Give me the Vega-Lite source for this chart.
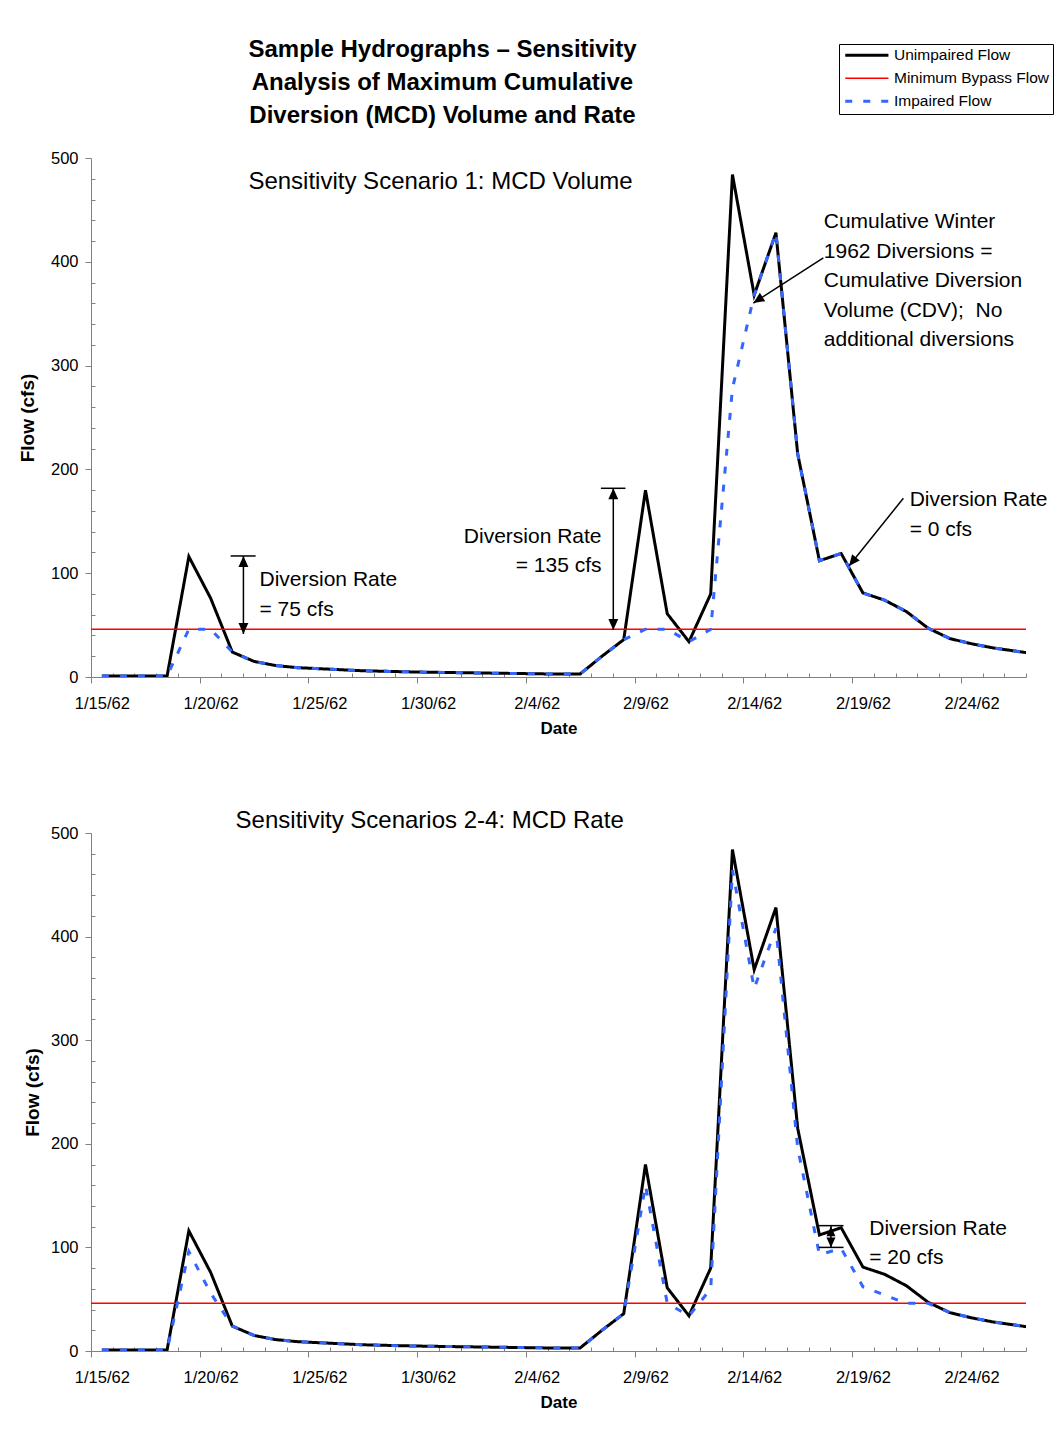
{
  "$schema": "https://vega.github.io/schema/vega-lite/v6.json",
  "background": "white",
  "padding": {"left": 18, "top": 37, "right": 5, "bottom": 5},
  "spacing": 71,
  "config": {
    "font": "Liberation Sans",
    "view": {"stroke": null},
    "axis": {"grid": false, "domainColor": "#808080", "tickColor": "#808080", "domainWidth": 1, "tickWidth": 1, "labelColor": "black", "titleColor": "black", "labelFont": "Liberation Sans", "titleFont": "Liberation Sans", "labelFontSize": 16.5, "titleFontWeight": "bold", "labelOverlap": false},
    "legend": {"orient": "none", "legendX": 748, "legendY": -114, "symbolType": "M-1,0L3.8,0", "symbolSize": 324, "symbolOffset": 4, "labelOffset": 32, "padding": 3.5, "rowPadding": 6, "strokeColor": "black", "fillColor": "white", "labelFont": "Liberation Sans", "labelFontSize": 15.5, "labelColor": "black", "cornerRadius": 0},
    "title": {"color": "black"}
  },
  "resolve": {
    "scale": {"color": "independent", "strokeDash": "independent"},
    "legend": {"color": "independent", "strokeDash": "independent"}
  },
  "datasets": {
    "top": [
      {"date": "1962-01-15T00:00:00", "unimpaired": 1, "impaired": 1},
      {"date": "1962-01-16T00:00:00", "unimpaired": 1, "impaired": 1},
      {"date": "1962-01-17T00:00:00", "unimpaired": 1, "impaired": 1},
      {"date": "1962-01-18T00:00:00", "unimpaired": 1, "impaired": 1},
      {"date": "1962-01-19T00:00:00", "unimpaired": 116, "impaired": 46},
      {"date": "1962-01-20T00:00:00", "unimpaired": 76, "impaired": 46},
      {"date": "1962-01-21T00:00:00", "unimpaired": 24, "impaired": 24},
      {"date": "1962-01-22T00:00:00", "unimpaired": 15, "impaired": 15},
      {"date": "1962-01-23T00:00:00", "unimpaired": 11, "impaired": 11},
      {"date": "1962-01-24T00:00:00", "unimpaired": 9, "impaired": 9},
      {"date": "1962-01-25T00:00:00", "unimpaired": 8, "impaired": 8},
      {"date": "1962-01-26T00:00:00", "unimpaired": 7, "impaired": 7},
      {"date": "1962-01-27T00:00:00", "unimpaired": 6, "impaired": 6},
      {"date": "1962-01-28T00:00:00", "unimpaired": 5.5, "impaired": 5.5},
      {"date": "1962-01-29T00:00:00", "unimpaired": 5, "impaired": 5},
      {"date": "1962-01-30T00:00:00", "unimpaired": 4.6, "impaired": 4.6},
      {"date": "1962-01-31T00:00:00", "unimpaired": 4.3, "impaired": 4.3},
      {"date": "1962-02-01T00:00:00", "unimpaired": 4, "impaired": 4},
      {"date": "1962-02-02T00:00:00", "unimpaired": 3.7, "impaired": 3.7},
      {"date": "1962-02-03T00:00:00", "unimpaired": 3.4, "impaired": 3.4},
      {"date": "1962-02-04T00:00:00", "unimpaired": 3.1, "impaired": 3.1},
      {"date": "1962-02-05T00:00:00", "unimpaired": 2.8, "impaired": 2.8},
      {"date": "1962-02-06T00:00:00", "unimpaired": 3, "impaired": 3},
      {"date": "1962-02-07T00:00:00", "unimpaired": 20, "impaired": 20},
      {"date": "1962-02-08T00:00:00", "unimpaired": 36, "impaired": 36},
      {"date": "1962-02-09T00:00:00", "unimpaired": 180, "impaired": 46},
      {"date": "1962-02-10T00:00:00", "unimpaired": 61, "impaired": 46},
      {"date": "1962-02-11T00:00:00", "unimpaired": 34, "impaired": 34},
      {"date": "1962-02-12T00:00:00", "unimpaired": 80, "impaired": 46},
      {"date": "1962-02-13T00:00:00", "unimpaired": 484, "impaired": 278},
      {"date": "1962-02-14T00:00:00", "unimpaired": 368, "impaired": 368},
      {"date": "1962-02-15T00:00:00", "unimpaired": 428, "impaired": 428},
      {"date": "1962-02-16T00:00:00", "unimpaired": 215, "impaired": 215},
      {"date": "1962-02-17T00:00:00", "unimpaired": 112, "impaired": 112},
      {"date": "1962-02-18T00:00:00", "unimpaired": 119, "impaired": 119},
      {"date": "1962-02-19T00:00:00", "unimpaired": 81, "impaired": 81},
      {"date": "1962-02-20T00:00:00", "unimpaired": 74, "impaired": 74},
      {"date": "1962-02-21T00:00:00", "unimpaired": 63, "impaired": 63},
      {"date": "1962-02-22T00:00:00", "unimpaired": 47, "impaired": 47},
      {"date": "1962-02-23T00:00:00", "unimpaired": 37, "impaired": 37},
      {"date": "1962-02-24T00:00:00", "unimpaired": 32, "impaired": 32},
      {"date": "1962-02-25T00:00:00", "unimpaired": 28, "impaired": 28},
      {"date": "1962-02-26T00:00:00", "unimpaired": 25, "impaired": 25},
      {"date": "1962-02-27T00:00:00", "unimpaired": 22, "impaired": 22}
    ],
    "bottom": [
      {"date": "1962-01-15T00:00:00", "unimpaired": 1, "impaired": 1},
      {"date": "1962-01-16T00:00:00", "unimpaired": 1, "impaired": 1},
      {"date": "1962-01-17T00:00:00", "unimpaired": 1, "impaired": 1},
      {"date": "1962-01-18T00:00:00", "unimpaired": 1, "impaired": 1},
      {"date": "1962-01-19T00:00:00", "unimpaired": 116, "impaired": 96},
      {"date": "1962-01-20T00:00:00", "unimpaired": 76, "impaired": 56},
      {"date": "1962-01-21T00:00:00", "unimpaired": 24, "impaired": 24},
      {"date": "1962-01-22T00:00:00", "unimpaired": 15, "impaired": 15},
      {"date": "1962-01-23T00:00:00", "unimpaired": 11, "impaired": 11},
      {"date": "1962-01-24T00:00:00", "unimpaired": 9, "impaired": 9},
      {"date": "1962-01-25T00:00:00", "unimpaired": 8, "impaired": 8},
      {"date": "1962-01-26T00:00:00", "unimpaired": 7, "impaired": 7},
      {"date": "1962-01-27T00:00:00", "unimpaired": 6, "impaired": 6},
      {"date": "1962-01-28T00:00:00", "unimpaired": 5.5, "impaired": 5.5},
      {"date": "1962-01-29T00:00:00", "unimpaired": 5, "impaired": 5},
      {"date": "1962-01-30T00:00:00", "unimpaired": 4.6, "impaired": 4.6},
      {"date": "1962-01-31T00:00:00", "unimpaired": 4.3, "impaired": 4.3},
      {"date": "1962-02-01T00:00:00", "unimpaired": 4, "impaired": 4},
      {"date": "1962-02-02T00:00:00", "unimpaired": 3.7, "impaired": 3.7},
      {"date": "1962-02-03T00:00:00", "unimpaired": 3.4, "impaired": 3.4},
      {"date": "1962-02-04T00:00:00", "unimpaired": 3.1, "impaired": 3.1},
      {"date": "1962-02-05T00:00:00", "unimpaired": 2.8, "impaired": 2.8},
      {"date": "1962-02-06T00:00:00", "unimpaired": 3, "impaired": 3},
      {"date": "1962-02-07T00:00:00", "unimpaired": 20, "impaired": 20},
      {"date": "1962-02-08T00:00:00", "unimpaired": 36, "impaired": 36},
      {"date": "1962-02-09T00:00:00", "unimpaired": 180, "impaired": 160},
      {"date": "1962-02-10T00:00:00", "unimpaired": 61, "impaired": 46},
      {"date": "1962-02-11T00:00:00", "unimpaired": 34, "impaired": 34},
      {"date": "1962-02-12T00:00:00", "unimpaired": 80, "impaired": 60},
      {"date": "1962-02-13T00:00:00", "unimpaired": 484, "impaired": 464},
      {"date": "1962-02-14T00:00:00", "unimpaired": 368, "impaired": 350},
      {"date": "1962-02-15T00:00:00", "unimpaired": 428, "impaired": 408},
      {"date": "1962-02-16T00:00:00", "unimpaired": 215, "impaired": 196},
      {"date": "1962-02-17T00:00:00", "unimpaired": 112, "impaired": 93},
      {"date": "1962-02-18T00:00:00", "unimpaired": 119, "impaired": 99},
      {"date": "1962-02-19T00:00:00", "unimpaired": 81, "impaired": 62},
      {"date": "1962-02-20T00:00:00", "unimpaired": 74, "impaired": 54},
      {"date": "1962-02-21T00:00:00", "unimpaired": 63, "impaired": 46},
      {"date": "1962-02-22T00:00:00", "unimpaired": 47, "impaired": 46},
      {"date": "1962-02-23T00:00:00", "unimpaired": 37, "impaired": 37},
      {"date": "1962-02-24T00:00:00", "unimpaired": 32, "impaired": 32},
      {"date": "1962-02-25T00:00:00", "unimpaired": 28, "impaired": 28},
      {"date": "1962-02-26T00:00:00", "unimpaired": 25, "impaired": 25},
      {"date": "1962-02-27T00:00:00", "unimpaired": 22, "impaired": 22}
    ],
    "bypass": [{"bypass": 46}],
    "segTop": [
      {"date": "1962-01-20T22:05:00", "date2": "1962-01-22T01:41:00", "flow": 116.6, "flow2": 116.6},
      {"date": "1962-01-21T12:14:00", "date2": "1962-01-21T12:14:00", "flow": 116.6, "flow2": 41.4},
      {"date": "1962-02-06T22:48:00", "date2": "1962-02-08T01:55:00", "flow": 181.8, "flow2": 181.8},
      {"date": "1962-02-07T12:29:00", "date2": "1962-02-07T12:29:00", "flow": 181.8, "flow2": 45.3},
      {"date": "1962-02-17T04:19:00", "date2": "1962-02-13T23:02:00", "flow": 403.7, "flow2": 360.3},
      {"date": "1962-02-20T20:38:00", "date2": "1962-02-18T08:38:00", "flow": 172.2, "flow2": 106.9}
    ],
    "headTop": [
      {"date": "1962-01-21T12:14:00", "flow": 116.6, "dir": "up"},
      {"date": "1962-02-07T12:29:00", "flow": 181.8, "dir": "up"},
      {"date": "1962-01-21T12:14:00", "flow": 41.4, "dir": "down"},
      {"date": "1962-02-07T12:29:00", "flow": 45.3, "dir": "down"},
      {"date": "1962-02-13T23:02:00", "flow": 360.3, "dir": "toCDV"},
      {"date": "1962-02-18T08:38:00", "flow": 106.9, "dir": "toZero"}
    ],
    "textTop": [
      {"date": "1962-01-22T06:00:00", "flow": 93.0, "label": "Diversion Rate\n= 75 cfs", "side": "left"},
      {"date": "1962-02-17T04:48:00", "flow": 438.3, "label": "Cumulative Winter\n1962 Diversions =\nCumulative Diversion\nVolume (CDV);\u00a0 No\nadditional diversions", "side": "left"},
      {"date": "1962-02-21T03:36:00", "flow": 170.5, "label": "Diversion Rate\n= 0 cfs", "side": "left"},
      {"date": "1962-02-06T23:30:00", "flow": 134.9, "label": "Diversion Rate\n= 135 cfs", "side": "right"}
    ],
    "subTop": [{"date": "1962-01-21T17:45:00", "flow": 476.9, "label": "Sensitivity Scenario 1: MCD Volume"}],
    "segBottom": [
      {"date": "1962-02-16T23:17:00", "date2": "1962-02-18T02:38:00", "flow": 121, "flow2": 121},
      {"date": "1962-02-16T23:17:00", "date2": "1962-02-18T02:38:00", "flow": 100, "flow2": 100},
      {"date": "1962-02-17T12:43:00", "date2": "1962-02-17T12:43:00", "flow": 121, "flow2": 100}
    ],
    "headBottom": [
      {"date": "1962-02-17T12:43:00", "flow": 120.5, "dir": "up"},
      {"date": "1962-02-17T12:43:00", "flow": 100, "dir": "down"}
    ],
    "textBottom": [{"date": "1962-02-19T07:00:00", "flow": 118.2, "label": "Diversion Rate\n= 20 cfs"}],
    "subBottom": [{"date": "1962-01-21T03:36:00", "flow": 511.6, "label": "Sensitivity Scenarios 2-4: MCD Rate"}]
  },
  "vconcat": [
    {
      "width": 935,
      "height": 519,
      "title": {"text": ["Sample Hydrographs – Sensitivity", "Analysis of Maximum Cumulative", "Diversion (MCD) Volume and Rate"], "font": "Liberation Sans", "fontSize": 24, "fontWeight": "bold", "anchor": "middle", "frame": "group", "dx": -116, "offset": -84, "lineHeight": 33, "color": "black"},
      "resolve": {"axis": {"x": "independent", "y": "independent"}},
      "layer": [
        {
          "data": {"name": "top"},
          "mark": {"type": "line", "clip": true, "strokeJoin": "miter", "strokeWidth": 3},
          "encoding": {
            "x": {"field": "date", "type": "temporal",
              "scale": {"domain": [{"year": 1962, "month": 1, "date": 14, "hours": 12}, {"year": 1962, "month": 2, "date": 26, "hours": 12}]},
              "axis": {"orient": "bottom", "title": "Date", "titleFontSize": 17, "titlePadding": 9, "labelPadding": 12, "labelOffset": 10.87, "labelOverlap": false, "labelFlush": false, "labelAngle": 0, "tickSize": 6,
                "labelExpr": "timeFormat(time(datum.value) + 43200000, '%-m/%-d/%y')",
                "values": [{"year": 1962, "month": 1, "date": 14, "hours": 12}, {"year": 1962, "month": 1, "date": 19, "hours": 12}, {"year": 1962, "month": 1, "date": 24, "hours": 12}, {"year": 1962, "month": 1, "date": 29, "hours": 12}, {"year": 1962, "month": 2, "date": 3, "hours": 12}, {"year": 1962, "month": 2, "date": 8, "hours": 12}, {"year": 1962, "month": 2, "date": 13, "hours": 12}, {"year": 1962, "month": 2, "date": 18, "hours": 12}, {"year": 1962, "month": 2, "date": 23, "hours": 12}]}},
            "y": {"field": "unimpaired", "type": "quantitative", "scale": {"domain": [0, 500], "nice": false},
              "axis": {"orient": "left", "title": "Flow (cfs)", "titleFontSize": 19, "titlePadding": 13, "labelPadding": 7, "labelOverlap": false, "tickSize": 6, "values": [0, 100, 200, 300, 400, 500]}},
            "color": {"datum": "Unimpaired Flow", "type": "nominal", "scale": {"domain": ["Unimpaired Flow", "Minimum Bypass Flow", "Impaired Flow"], "range": ["#000000", "#ff0000", "#3366ff"]}, "legend": {"title": null, "symbolStrokeWidth": {"expr": "datum.value === 'Minimum Bypass Flow' ? 1.5 : 3"}}},
            "strokeDash": {"datum": "Unimpaired Flow", "type": "nominal", "scale": {"domain": ["Unimpaired Flow", "Minimum Bypass Flow", "Impaired Flow"], "range": [[1, 0], [1, 0], [7, 11]]}, "legend": {"title": null}}
          }
        },
        {
          "data": {"name": "bypass"},
          "mark": {"type": "rule", "strokeWidth": 1.5},
          "encoding": {
            "y": {"field": "bypass", "type": "quantitative", "axis": null},
            "color": {"datum": "Minimum Bypass Flow", "type": "nominal", "legend": {"title": null}},
            "strokeDash": {"datum": "Minimum Bypass Flow", "type": "nominal", "legend": {"title": null}}
          }
        },
        {
          "data": {"name": "top"},
          "mark": {"type": "line", "clip": true, "strokeJoin": "miter", "strokeWidth": 3},
          "encoding": {
            "x": {"field": "date", "type": "temporal",
              "axis": {"orient": "bottom", "title": null, "labels": false, "domain": false, "tickSize": -4,
                "values": [{"year": 1962, "month": 1, "date": 15, "hours": 12}, {"year": 1962, "month": 1, "date": 16, "hours": 12}, {"year": 1962, "month": 1, "date": 17, "hours": 12}, {"year": 1962, "month": 1, "date": 18, "hours": 12}, {"year": 1962, "month": 1, "date": 20, "hours": 12}, {"year": 1962, "month": 1, "date": 21, "hours": 12}, {"year": 1962, "month": 1, "date": 22, "hours": 12}, {"year": 1962, "month": 1, "date": 23, "hours": 12}, {"year": 1962, "month": 1, "date": 25, "hours": 12}, {"year": 1962, "month": 1, "date": 26, "hours": 12}, {"year": 1962, "month": 1, "date": 27, "hours": 12}, {"year": 1962, "month": 1, "date": 28, "hours": 12}, {"year": 1962, "month": 1, "date": 30, "hours": 12}, {"year": 1962, "month": 1, "date": 31, "hours": 12}, {"year": 1962, "month": 2, "date": 1, "hours": 12}, {"year": 1962, "month": 2, "date": 2, "hours": 12}, {"year": 1962, "month": 2, "date": 4, "hours": 12}, {"year": 1962, "month": 2, "date": 5, "hours": 12}, {"year": 1962, "month": 2, "date": 6, "hours": 12}, {"year": 1962, "month": 2, "date": 7, "hours": 12}, {"year": 1962, "month": 2, "date": 9, "hours": 12}, {"year": 1962, "month": 2, "date": 10, "hours": 12}, {"year": 1962, "month": 2, "date": 11, "hours": 12}, {"year": 1962, "month": 2, "date": 12, "hours": 12}, {"year": 1962, "month": 2, "date": 14, "hours": 12}, {"year": 1962, "month": 2, "date": 15, "hours": 12}, {"year": 1962, "month": 2, "date": 16, "hours": 12}, {"year": 1962, "month": 2, "date": 17, "hours": 12}, {"year": 1962, "month": 2, "date": 19, "hours": 12}, {"year": 1962, "month": 2, "date": 20, "hours": 12}, {"year": 1962, "month": 2, "date": 21, "hours": 12}, {"year": 1962, "month": 2, "date": 22, "hours": 12}, {"year": 1962, "month": 2, "date": 24, "hours": 12}, {"year": 1962, "month": 2, "date": 25, "hours": 12}, {"year": 1962, "month": 2, "date": 26, "hours": 12}]}},
            "y": {"field": "impaired", "type": "quantitative",
              "axis": {"orient": "left", "title": null, "labels": false, "domain": false, "tickSize": -4, "values": [20, 40, 60, 80, 120, 140, 160, 180, 220, 240, 260, 280, 320, 340, 360, 380, 420, 440, 460, 480]}},
            "color": {"datum": "Impaired Flow", "type": "nominal", "legend": {"title": null}},
            "strokeDash": {"datum": "Impaired Flow", "type": "nominal", "legend": {"title": null}}
          }
        },
        {
          "data": {"name": "segTop"},
          "mark": {"type": "rule", "color": "black", "strokeWidth": 1.5},
          "encoding": {
            "x": {"field": "date", "type": "temporal", "axis": null}, "x2": {"field": "date2"},
            "y": {"field": "flow", "type": "quantitative", "axis": null}, "y2": {"field": "flow2"}
          }
        },
        {
          "data": {"name": "headTop"},
          "transform": [{"filter": "datum.dir === 'up'"}],
          "mark": {"type": "point", "shape": "M0,0L-0.45,1L0.45,1Z", "size": 484, "filled": true, "color": "black", "opacity": 1, "angle": 0},
          "encoding": {"x": {"field": "date", "type": "temporal", "axis": null}, "y": {"field": "flow", "type": "quantitative", "axis": null}}
        },
        {
          "data": {"name": "headTop"},
          "transform": [{"filter": "datum.dir === 'down'"}],
          "mark": {"type": "point", "shape": "M0,0L-0.45,1L0.45,1Z", "size": 484, "filled": true, "color": "black", "opacity": 1, "angle": 180},
          "encoding": {"x": {"field": "date", "type": "temporal", "axis": null}, "y": {"field": "flow", "type": "quantitative", "axis": null}}
        },
        {
          "data": {"name": "headTop"},
          "transform": [{"filter": "datum.dir === 'toCDV'"}],
          "mark": {"type": "point", "shape": "M0,0L-0.45,1L0.45,1Z", "size": 484, "filled": true, "color": "black", "opacity": 1, "angle": 237},
          "encoding": {"x": {"field": "date", "type": "temporal", "axis": null}, "y": {"field": "flow", "type": "quantitative", "axis": null}}
        },
        {
          "data": {"name": "headTop"},
          "transform": [{"filter": "datum.dir === 'toZero'"}],
          "mark": {"type": "point", "shape": "M0,0L-0.45,1L0.45,1Z", "size": 484, "filled": true, "color": "black", "opacity": 1, "angle": 219},
          "encoding": {"x": {"field": "date", "type": "temporal", "axis": null}, "y": {"field": "flow", "type": "quantitative", "axis": null}}
        },
        {
          "data": {"name": "textTop"},
          "transform": [{"filter": "datum.side === 'left'"}],
          "mark": {"type": "text", "align": "left", "baseline": "middle", "font": "Liberation Sans", "fontSize": 21, "lineHeight": 29.5, "lineBreak": "\n", "color": "black"},
          "encoding": {"x": {"field": "date", "type": "temporal", "axis": null}, "y": {"field": "flow", "type": "quantitative", "axis": null}, "text": {"field": "label"}}
        },
        {
          "data": {"name": "textTop"},
          "transform": [{"filter": "datum.side === 'right'"}],
          "mark": {"type": "text", "align": "right", "baseline": "middle", "font": "Liberation Sans", "fontSize": 21, "lineHeight": 29.5, "lineBreak": "\n", "color": "black"},
          "encoding": {"x": {"field": "date", "type": "temporal", "axis": null}, "y": {"field": "flow", "type": "quantitative", "axis": null}, "text": {"field": "label"}}
        },
        {
          "data": {"name": "subTop"},
          "mark": {"type": "text", "align": "left", "baseline": "middle", "font": "Liberation Sans", "fontSize": 24, "color": "black"},
          "encoding": {"x": {"field": "date", "type": "temporal", "axis": null}, "y": {"field": "flow", "type": "quantitative", "axis": null}, "text": {"field": "label"}}
        }
      ]
    },
    {
      "width": 935,
      "height": 518,
      "resolve": {"axis": {"x": "independent", "y": "independent"}},
      "layer": [
        {
          "data": {"name": "bottom"},
          "mark": {"type": "line", "clip": true, "strokeJoin": "miter", "strokeWidth": 3},
          "encoding": {
            "x": {"field": "date", "type": "temporal",
              "scale": {"domain": [{"year": 1962, "month": 1, "date": 14, "hours": 12}, {"year": 1962, "month": 2, "date": 26, "hours": 12}]},
              "axis": {"orient": "bottom", "title": "Date", "titleFontSize": 17, "titlePadding": 9, "labelPadding": 12, "labelOffset": 10.87, "labelOverlap": false, "labelFlush": false, "labelAngle": 0, "tickSize": 6,
                "labelExpr": "timeFormat(time(datum.value) + 43200000, '%-m/%-d/%y')",
                "values": [{"year": 1962, "month": 1, "date": 14, "hours": 12}, {"year": 1962, "month": 1, "date": 19, "hours": 12}, {"year": 1962, "month": 1, "date": 24, "hours": 12}, {"year": 1962, "month": 1, "date": 29, "hours": 12}, {"year": 1962, "month": 2, "date": 3, "hours": 12}, {"year": 1962, "month": 2, "date": 8, "hours": 12}, {"year": 1962, "month": 2, "date": 13, "hours": 12}, {"year": 1962, "month": 2, "date": 18, "hours": 12}, {"year": 1962, "month": 2, "date": 23, "hours": 12}]}},
            "y": {"field": "unimpaired", "type": "quantitative", "scale": {"domain": [0, 500], "nice": false},
              "axis": {"orient": "left", "title": "Flow (cfs)", "titleFontSize": 19, "titlePadding": 8, "labelPadding": 7, "labelOverlap": false, "tickSize": 6, "values": [0, 100, 200, 300, 400, 500]}},
            "color": {"datum": "Unimpaired Flow", "type": "nominal", "scale": {"domain": ["Unimpaired Flow", "Minimum Bypass Flow", "Impaired Flow"], "range": ["#000000", "#ff0000", "#3366ff"]}, "legend": null},
            "strokeDash": {"datum": "Unimpaired Flow", "type": "nominal", "scale": {"domain": ["Unimpaired Flow", "Minimum Bypass Flow", "Impaired Flow"], "range": [[1, 0], [1, 0], [7, 11]]}, "legend": null}
          }
        },
        {
          "data": {"name": "bypass"},
          "mark": {"type": "rule", "strokeWidth": 1.5},
          "encoding": {
            "y": {"field": "bypass", "type": "quantitative", "axis": null},
            "color": {"datum": "Minimum Bypass Flow", "type": "nominal", "legend": null},
            "strokeDash": {"datum": "Minimum Bypass Flow", "type": "nominal", "legend": null}
          }
        },
        {
          "data": {"name": "bottom"},
          "mark": {"type": "line", "clip": true, "strokeJoin": "miter", "strokeWidth": 3},
          "encoding": {
            "x": {"field": "date", "type": "temporal",
              "axis": {"orient": "bottom", "title": null, "labels": false, "domain": false, "tickSize": -4,
                "values": [{"year": 1962, "month": 1, "date": 15, "hours": 12}, {"year": 1962, "month": 1, "date": 16, "hours": 12}, {"year": 1962, "month": 1, "date": 17, "hours": 12}, {"year": 1962, "month": 1, "date": 18, "hours": 12}, {"year": 1962, "month": 1, "date": 20, "hours": 12}, {"year": 1962, "month": 1, "date": 21, "hours": 12}, {"year": 1962, "month": 1, "date": 22, "hours": 12}, {"year": 1962, "month": 1, "date": 23, "hours": 12}, {"year": 1962, "month": 1, "date": 25, "hours": 12}, {"year": 1962, "month": 1, "date": 26, "hours": 12}, {"year": 1962, "month": 1, "date": 27, "hours": 12}, {"year": 1962, "month": 1, "date": 28, "hours": 12}, {"year": 1962, "month": 1, "date": 30, "hours": 12}, {"year": 1962, "month": 1, "date": 31, "hours": 12}, {"year": 1962, "month": 2, "date": 1, "hours": 12}, {"year": 1962, "month": 2, "date": 2, "hours": 12}, {"year": 1962, "month": 2, "date": 4, "hours": 12}, {"year": 1962, "month": 2, "date": 5, "hours": 12}, {"year": 1962, "month": 2, "date": 6, "hours": 12}, {"year": 1962, "month": 2, "date": 7, "hours": 12}, {"year": 1962, "month": 2, "date": 9, "hours": 12}, {"year": 1962, "month": 2, "date": 10, "hours": 12}, {"year": 1962, "month": 2, "date": 11, "hours": 12}, {"year": 1962, "month": 2, "date": 12, "hours": 12}, {"year": 1962, "month": 2, "date": 14, "hours": 12}, {"year": 1962, "month": 2, "date": 15, "hours": 12}, {"year": 1962, "month": 2, "date": 16, "hours": 12}, {"year": 1962, "month": 2, "date": 17, "hours": 12}, {"year": 1962, "month": 2, "date": 19, "hours": 12}, {"year": 1962, "month": 2, "date": 20, "hours": 12}, {"year": 1962, "month": 2, "date": 21, "hours": 12}, {"year": 1962, "month": 2, "date": 22, "hours": 12}, {"year": 1962, "month": 2, "date": 24, "hours": 12}, {"year": 1962, "month": 2, "date": 25, "hours": 12}, {"year": 1962, "month": 2, "date": 26, "hours": 12}]}},
            "y": {"field": "impaired", "type": "quantitative",
              "axis": {"orient": "left", "title": null, "labels": false, "domain": false, "tickSize": -4, "values": [20, 40, 60, 80, 120, 140, 160, 180, 220, 240, 260, 280, 320, 340, 360, 380, 420, 440, 460, 480]}},
            "color": {"datum": "Impaired Flow", "type": "nominal", "legend": null},
            "strokeDash": {"datum": "Impaired Flow", "type": "nominal", "legend": null}
          }
        },
        {
          "data": {"name": "segBottom"},
          "mark": {"type": "rule", "color": "black", "strokeWidth": 1.5},
          "encoding": {
            "x": {"field": "date", "type": "temporal", "axis": null}, "x2": {"field": "date2"},
            "y": {"field": "flow", "type": "quantitative", "axis": null}, "y2": {"field": "flow2"}
          }
        },
        {
          "data": {"name": "headBottom"},
          "transform": [{"filter": "datum.dir === 'up'"}],
          "mark": {"type": "point", "shape": "M0,0L-0.45,1L0.45,1Z", "size": 400, "filled": true, "color": "black", "opacity": 1, "angle": 0},
          "encoding": {"x": {"field": "date", "type": "temporal", "axis": null}, "y": {"field": "flow", "type": "quantitative", "axis": null}}
        },
        {
          "data": {"name": "headBottom"},
          "transform": [{"filter": "datum.dir === 'down'"}],
          "mark": {"type": "point", "shape": "M0,0L-0.45,1L0.45,1Z", "size": 400, "filled": true, "color": "black", "opacity": 1, "angle": 180},
          "encoding": {"x": {"field": "date", "type": "temporal", "axis": null}, "y": {"field": "flow", "type": "quantitative", "axis": null}}
        },
        {
          "data": {"name": "textBottom"},
          "mark": {"type": "text", "align": "left", "baseline": "middle", "font": "Liberation Sans", "fontSize": 21, "lineHeight": 29.5, "lineBreak": "\n", "color": "black"},
          "encoding": {"x": {"field": "date", "type": "temporal", "axis": null}, "y": {"field": "flow", "type": "quantitative", "axis": null}, "text": {"field": "label"}}
        },
        {
          "data": {"name": "subBottom"},
          "mark": {"type": "text", "align": "left", "baseline": "middle", "font": "Liberation Sans", "fontSize": 24, "color": "black"},
          "encoding": {"x": {"field": "date", "type": "temporal", "axis": null}, "y": {"field": "flow", "type": "quantitative", "axis": null}, "text": {"field": "label"}}
        }
      ]
    }
  ]
}
